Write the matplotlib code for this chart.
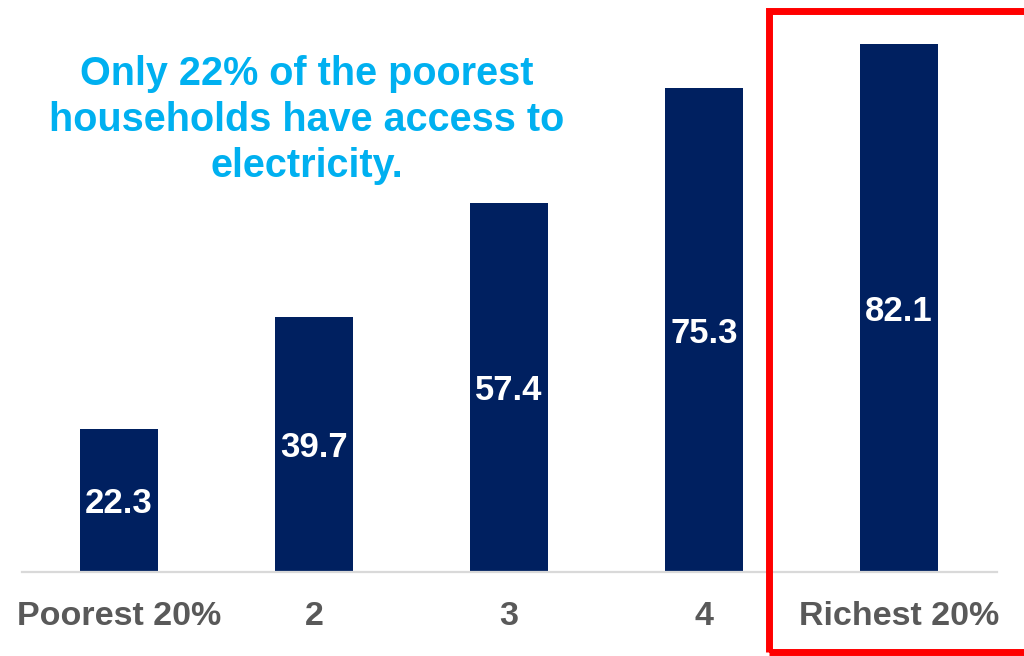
import matplotlib
matplotlib.use("Agg")
import matplotlib.pyplot as plt
from matplotlib.patches import Rectangle

categories = ["Poorest 20%", "2", "3", "4", "Richest 20%"]
values = [22.3, 39.7, 57.4, 75.3, 82.1]
title_text = "Only 22% of the poorest\nhouseholds have access to\nelectricity."

plt.rcParams['font.family'] = ['Liberation Sans', 'DejaVu Sans']

W, H = 1024, 656
fig = plt.figure(figsize=(W / 100, H / 100), dpi=100)
left = 21.5 / W
width = 975 / W
bottom = (H - 572) / H
height = (572 - 8) / H
ax = fig.add_axes([left, bottom, width, height])

x = list(range(len(categories)))
bars = ax.bar(x, values, width=0.4, color="#002060", zorder=2)
ax.set_xlim(-0.5, len(categories) - 0.5)
ax.set_ylim(0, 564 / 6.43)

for xi, v in zip(x, values):
    ax.text(xi, v / 2, f"{v:.1f}", ha="center", va="center_baseline", color="white",
            fontsize=25, fontweight="bold", zorder=3)

for s in ["top", "right", "left"]:
    ax.spines[s].set_visible(False)
ax.spines["bottom"].set_color("#D9D9D9")
ax.spines["bottom"].set_linewidth(1.6)
ax.set_yticks([])
ax.set_xticks(x)
ax.set_xticklabels(categories, fontsize=24.5, fontweight="bold", color="#595959")
ax.tick_params(axis="x", length=0, pad=21)

fig.text(307 / W, 1 - 120 / H, title_text, ha="center", va="center",
         fontsize=28.5, fontweight="bold", color="#00B0F0", linespacing=1.28)

rect = Rectangle((768.5 / W, 1 - 651.5 / H), (1040 - 768.5) / W, (651.5 - 10.5) / H,
                 transform=fig.transFigure, fill=False, edgecolor="#FF0000",
                 linewidth=5, clip_on=False)
fig.patches.append(rect)

fig.savefig("out.png", dpi=100)
